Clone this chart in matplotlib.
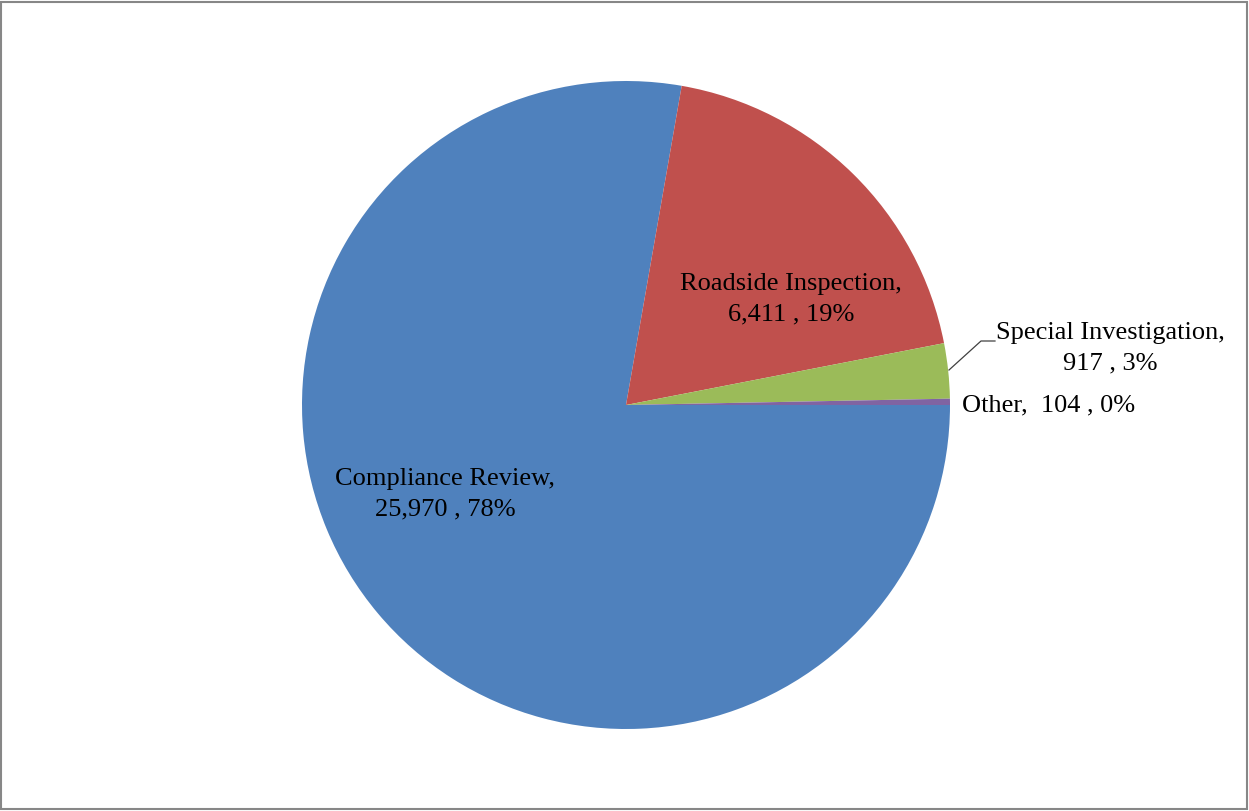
import matplotlib.pyplot as plt
from matplotlib.patches import Rectangle

plt.rcParams['font.family'] = ['Liberation Serif', 'DejaVu Serif']

categories = ["Compliance Review", "Roadside Inspection", "Special Investigation", "Other"]
counts = [25970, 6411, 917, 104]
colors = ["#4F81BD", "#C0504D", "#9BBB59", "#8064A2"]

W, H = 1249, 811
cx, cy, R = 626, 405, 324


def px(x, y):
    # pixel position -> data coords (pie radius = 1)
    return (x - cx) / R, (cy - y) / R


fig = plt.figure(figsize=(W / 100, H / 100), dpi=100)
ax = fig.add_axes([0, 0, 1, 1])

ax.pie(counts, colors=colors, startangle=0, counterclock=False,
       radius=1, center=(0, 0), frame=True,
       wedgeprops=dict(linewidth=0))
ax.set_xlim(-cx / R, (W - cx) / R)
ax.set_ylim(-(H - cy) / R, cy / R)
ax.set_aspect("auto")
ax.axis("off")

total = sum(counts)
labels = [f"{c},\n{v:,} , {round(100 * v / total)}%" for c, v in zip(categories, counts)]
labels[3] = f"{categories[3]},  {counts[3]} , {round(100 * counts[3] / total)}%"

fs = 19
ls = 1.5
ax.text(*px(445, 494), labels[0], ha="center", va="center", fontsize=fs, linespacing=ls)
ax.text(*px(791, 299), labels[1], ha="center", va="center", fontsize=fs, linespacing=ls)
ax.text(*px(1110, 348), labels[2], ha="center", va="center", fontsize=fs, linespacing=ls)
ax.text(*px(962, 405), labels[3], ha="left", va="center", fontsize=fs)

# leader line for the small slice
pts = [px(949, 370), px(981, 341), px(995, 341)]
ax.plot([p[0] for p in pts], [p[1] for p in pts], color="#404040", linewidth=0.9)

fig.patches.append(Rectangle((0.001, 0.002), 0.997, 0.995, transform=fig.transFigure,
                             fill=False, edgecolor="#878787", linewidth=1.5))

fig.savefig("out.png", dpi=100, facecolor="white")
